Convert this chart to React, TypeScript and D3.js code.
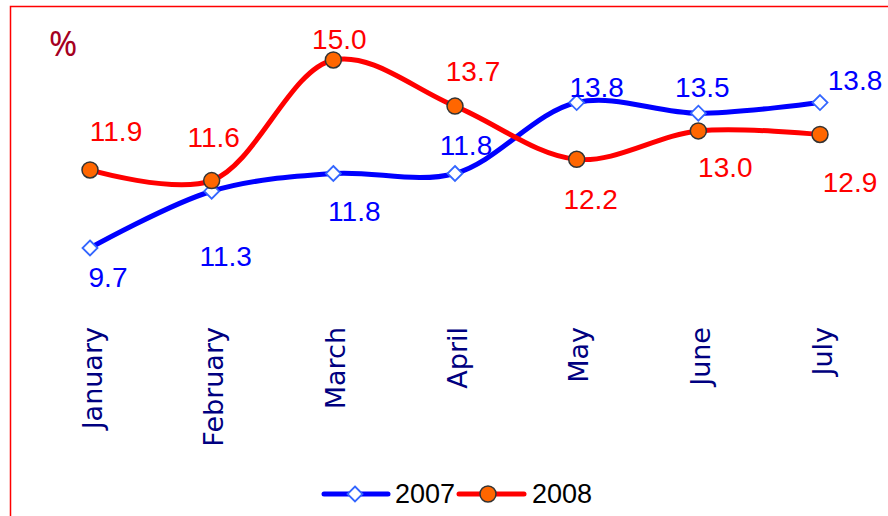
import React from "react";
import * as d3 from "d3";

const months = ["January", "February", "March", "April", "May", "June", "July"];
const series2007 = [9.7, 11.3, 11.8, 11.8, 13.8, 13.5, 13.8];
const series2008 = [11.9, 11.6, 15.0, 13.7, 12.2, 13.0, 12.9];
const seriesNames = ["2007", "2008"];

// label placement offsets (layout only)
const off2007: [number, number][] = [[18, 30], [14, 65], [21, 38], [11, -28], [20, -15], [4, -26], [35, -22]];
const off2008: [number, number][] = [[26, -38], [2, -43], [6, -20], [18, -35], [14, 40], [27, 37], [30, 48]];

const W = 888, H = 516;

export default function App() {
  const x = d3.scalePoint<string>().domain(months).range([90, 820]);
  const y = d3.scaleLinear().domain([8, 16]).range([308.3, 24.5]);
  const line = d3
    .line<number>()
    .x((_, i) => x(months[i])!)
    .y((d) => y(d))
    .curve(d3.curveCatmullRom.alpha(0.5));

  const labelFont = "'Liberation Sans', Arial, sans-serif";
  const diamond = (cx: number, cy: number, r = 7.5) =>
    `M${cx},${cy - r}L${cx + r},${cy}L${cx},${cy + r}L${cx - r},${cy}Z`;

  return (
    <svg width={W} height={H} style={{ position: "absolute", left: 0, top: 0, background: "#fff" }}>
      {/* frame */}
      <path d={`M10.5,${H}V6.5H${W}`} fill="none" stroke="#ff0000" strokeWidth={1.5} />
      <text x={49} y={56} fontFamily="'Noto Sans', 'Open Sans', sans-serif" fontSize={34} fill="#a50021">%</text>

      {/* lines */}
      <path d={line(series2007)!} fill="none" stroke="#0000ff" strokeWidth={5} strokeLinejoin="round" />
      <path d={line(series2008)!} fill="none" stroke="#ff0000" strokeWidth={5} strokeLinejoin="round" />

      {/* markers */}
      {series2007.map((v, i) => (
        <path key={"d" + i} d={diamond(x(months[i])!, y(v))} fill="#fff" stroke="#3366ff" strokeWidth={1.8} />
      ))}
      {series2008.map((v, i) => (
        <circle key={"c" + i} cx={x(months[i])!} cy={y(v)} r={8} fill="#ff6600" stroke="#333" strokeWidth={1.5} />
      ))}

      {/* data labels */}
      {series2007.map((v, i) => (
        <text key={"l7" + i} x={x(months[i])! + off2007[i][0]} y={y(v) + off2007[i][1]} textAnchor="middle"
          dominantBaseline="central" fontFamily={labelFont} fontSize={28} fill="#0000ff">
          {v.toFixed(1)}
        </text>
      ))}
      {series2008.map((v, i) => (
        <text key={"l8" + i} x={x(months[i])! + off2008[i][0]} y={y(v) + off2008[i][1]} textAnchor="middle"
          dominantBaseline="central" fontFamily={labelFont} fontSize={28} fill="#ff0000">
          {v.toFixed(1)}
        </text>
      ))}

      {/* category labels */}
      {months.map((m) => (
        <text key={m} transform={`translate(${x(m)! + 2},327) rotate(-90)`} textAnchor="end"
          dominantBaseline="central" fontFamily="'DejaVu Sans', Verdana, sans-serif" fontSize={27} fill="#000080">
          {m}
        </text>
      ))}

      {/* legend */}
      <g>
        <line x1={324} x2={388} y1={494} y2={494} stroke="#0000ff" strokeWidth={5} strokeLinecap="round" />
        <path d={diamond(355, 494)} fill="#fff" stroke="#3366ff" strokeWidth={1.8} />
        <text x={395} y={494} dominantBaseline="central" fontFamily={labelFont} fontSize={27} fill="#000">{seriesNames[0]}</text>
        <line x1={459} x2={524} y1={494} y2={494} stroke="#ff0000" strokeWidth={5} strokeLinecap="round" />
        <circle cx={488} cy={494} r={8} fill="#ff6600" stroke="#333" strokeWidth={1.5} />
        <text x={532} y={494} dominantBaseline="central" fontFamily={labelFont} fontSize={27} fill="#000">{seriesNames[1]}</text>
      </g>
    </svg>
  );
}
